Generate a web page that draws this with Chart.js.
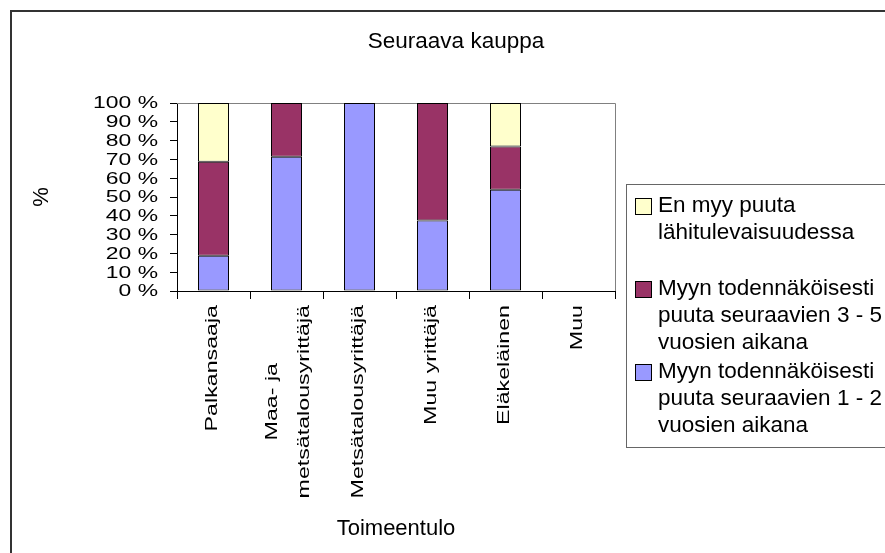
<!DOCTYPE html>
<html>
<head>
<meta charset="utf-8">
<script src="https://cdn.jsdelivr.net/npm/chart.js@4/dist/chart.umd.min.js"></script>
<style>
html, body { margin: 0; padding: 0; background: #ffffff; }
canvas { display: block; }
</style>
</head>
<body>
<canvas id="c" width="885" height="553"></canvas>
<script>
// ---- data ----
const chartTitle = 'Seuraava kauppa';
const xTitle = 'Toimeentulo';
const yTitle = '%';
const categories = ['Palkansaaja', ['Maa- ja', 'metsätalousyrittäjä'], 'Metsätalousyrittäjä', 'Muu yrittäjä', 'Eläkeläinen', 'Muu'];
const yTickLabels = ['0 %', '10 %', '20 %', '30 %', '40 %', '50 %', '60 %', '70 %', '80 %', '90 %', '100 %'];
const sales12 = [18.75, 71.4, 100, 37.5, 53.8, 0];
const sales35 = [50, 28.6, 0, 62.5, 23.1, 0];
const noSale = [31.25, 0, 0, 0, 23.1, 0];
const name12 = ['Myyn todennäköisesti', 'puuta seuraavien 1 - 2', 'vuosien aikana'];
const name35 = ['Myyn todennäköisesti', 'puuta seuraavien 3 - 5', 'vuosien aikana'];
const nameNo = ['En myy puuta', 'lähitulevaisuudessa'];

const FONT = "'Liberation Sans', Arial, sans-serif";
const STRETCH = 1.45;

const decor = {
  id: 'decor',
  beforeDatasetsDraw(chart) {
    const ctx = chart.ctx;
    const a = chart.chartArea;
    ctx.save();
    ctx.strokeStyle = '#808080';
    ctx.lineWidth = 1;
    ctx.beginPath();
    ctx.moveTo(a.left, Math.round(a.top) + 0.5);
    ctx.lineTo(Math.round(a.right) + 0.5, Math.round(a.top) + 0.5);
    ctx.lineTo(Math.round(a.right) + 0.5, a.bottom);
    ctx.stroke();
    ctx.restore();
  },
  afterDraw(chart) {
    const ctx = chart.ctx;
    const a = chart.chartArea;
    const xs = chart.scales.x, ys = chart.scales.y;
    ctx.save();
    // outer border
    ctx.strokeStyle = '#333333';
    ctx.lineWidth = 2;
    ctx.strokeRect(11, 11, 920, 600);

    ctx.fillStyle = '#000000';
    // title
    ctx.font = '22.5px ' + FONT;
    ctx.textAlign = 'center';
    ctx.textBaseline = 'alphabetic';
    ctx.fillText(chartTitle, 456, 48);

    // x title
    ctx.font = '22px ' + FONT;
    ctx.fillText(xTitle, (a.left + a.right) / 2, 535);

    // y title
    ctx.save();
    ctx.translate(42, 197);
    ctx.rotate(-Math.PI / 2);
    ctx.textBaseline = 'middle';
    ctx.fillText(yTitle, 0, 0);
    ctx.restore();

    // y tick labels (stretched)
    ctx.font = '16px ' + FONT;
    ys.ticks.forEach((t, i) => {
      const y = ys.getPixelForValue(t.value);
      ctx.save();
      ctx.translate(158, y);
      ctx.scale(1.43, 1);
      ctx.textAlign = 'right';
      ctx.textBaseline = 'middle';
      ctx.fillText(yTickLabels[i], 0, 1);
      ctx.restore();
    });

    // x tick labels (rotated, stretched)
    categories.forEach((lab, i) => {
      const lines = Array.isArray(lab) ? lab : [lab];
      const cx = xs.getPixelForValue(i);
      const n = lines.length;
      const widths = lines.map(s => ctx.measureText(s).width);
      const maxW = Math.max(...widths);
      lines.forEach((s, j) => {
        ctx.save();
        ctx.translate(cx + (j - (n - 1) / 2) * 32 + (n > 1 ? 2 : -1), a.bottom + 14);
        ctx.rotate(-Math.PI / 2);
        ctx.scale(STRETCH, 1);
        ctx.textBaseline = 'middle';
        if (n === 1) {
          ctx.textAlign = 'right';
          ctx.fillText(s, 0, 0);
        } else {
          ctx.textAlign = 'center';
          ctx.fillText(s, -maxW / 2, 0);
        }
        ctx.restore();
      });
    });

    // legend
    ctx.strokeStyle = '#666666';
    ctx.lineWidth = 1;
    ctx.strokeRect(626.5, 184.5, 320, 263);
    ctx.font = '22.5px ' + FONT;
    ctx.textAlign = 'left';
    ctx.textBaseline = 'alphabetic';
    const ds = chart.data.datasets.slice().reverse();
    ds.forEach((d, k) => {
      const base = 212 + k * 83;
      ctx.fillStyle = d.backgroundColor;
      ctx.fillRect(635, base - 14, 17, 17);
      ctx.strokeStyle = '#000000';
      ctx.strokeRect(635.5, base - 13.5, 16, 16);
      ctx.fillStyle = '#000000';
      d.legendLines.forEach((s, j) => {
        ctx.fillText(s, 658, base + j * 27);
      });
    });
    ctx.restore();
  }
};

function mkSet(lines, data, color) {
  return {
    label: lines.join(' '),
    legendLines: lines,
    data: data,
    backgroundColor: color,
    borderColor: '#000000',
    borderWidth: c => (c.raw ? 1 : 0),
    borderSkipped: false,
    barPercentage: 0.425,
    categoryPercentage: 1.0
  };
}

new Chart(document.getElementById('c'), {
  type: 'bar',
  data: {
    labels: categories,
    datasets: [
      mkSet(name12, sales12, '#9999FF'),
      mkSet(name35, sales35, '#993366'),
      mkSet(nameNo, noSale, '#FFFFCC')
    ]
  },
  options: {
    responsive: false,
    animation: false,
    devicePixelRatio: 1,
    layout: { padding: { left: 170, top: 103, right: 270, bottom: 254 } },
    plugins: { legend: { display: false }, title: { display: false }, tooltip: { enabled: false } },
    scales: {
      x: {
        stacked: true,
        grid: { offset: true, drawOnChartArea: false, tickLength: 8, tickColor: '#000000' },
        border: { color: '#000000', width: 1 },
        ticks: { display: false }
      },
      y: {
        stacked: true,
        min: 0, max: 100,
        ticks: { display: false, stepSize: 10, callback: (v, i) => yTickLabels[i] },
        grid: { drawOnChartArea: false, tickLength: 7, tickColor: '#000000' },
        border: { color: '#000000', width: 1 }
      }
    }
  },
  plugins: [decor]
});
</script>
</body>
</html>
